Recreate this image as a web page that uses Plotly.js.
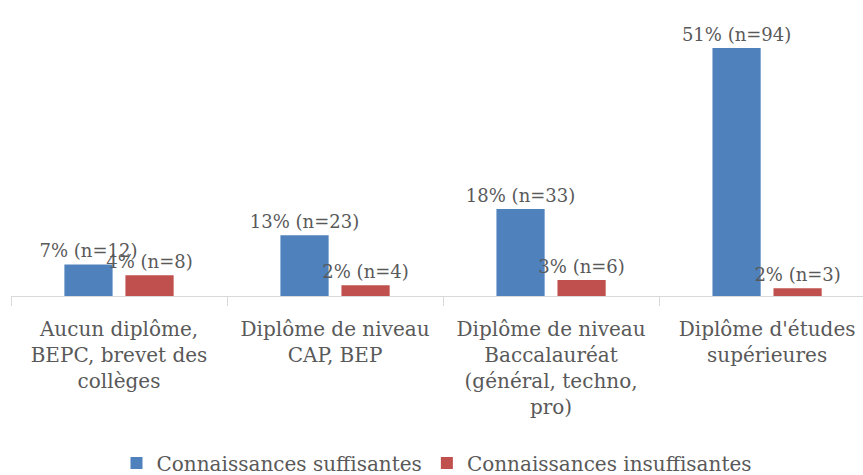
<!DOCTYPE html>
<html>
<head>
<meta charset="utf-8">
<script src="https://cdn.plot.ly/plotly-3.0.1.min.js"></script>
<style>html,body{margin:0;padding:0;background:#fff;}#chart{width:863px;height:475px;}</style>
</head>
<body>
<div id="chart"></div>
<script>
const categories = [
  "Aucun diplôme,<br>BEPC, brevet des<br>collèges",
  "Diplôme de niveau<br>CAP, BEP",
  "Diplôme de niveau<br>Baccalauréat<br>(général, techno,<br>pro)",
  "Diplôme d'études<br>supérieures"
];
const seriesNames = ["Connaissances suffisantes", "Connaissances insuffisantes"];
const suffisantesValues = [6.5, 12.5, 17.9, 51.1];
const suffisantesLabels = ["7% (n=12)", "13% (n=23)", "18% (n=33)", "51% (n=94)"];
const insuffisantesValues = [4.3, 2.2, 3.3, 1.6];
const insuffisantesLabels = ["4% (n=8)", "2% (n=4)", "3% (n=6)", "2% (n=3)"];

const FONT = "'DejaVu Serif', serif";
const GREY = "#595959";

const traces = [
  {
    type: "bar", name: seriesNames[0], x: categories, y: suffisantesValues,
    text: suffisantesLabels, textposition: "outside", cliponaxis: false, constraintext: "none",
    textfont: {family: FONT, size: 18, color: GREY},
    marker: {color: "#4F81BD"}, hoverinfo: "none"
  },
  {
    type: "bar", name: seriesNames[1], x: categories, y: insuffisantesValues,
    text: insuffisantesLabels, textposition: "outside", cliponaxis: false, constraintext: "none",
    textfont: {family: FONT, size: 18, color: GREY},
    marker: {color: "#C0504D"}, hoverinfo: "none"
  }
];

const layout = {
  width: 863, height: 475,
  margin: {l: 11, r: 0, t: 29, b: 179, autoexpand: false},
  paper_bgcolor: "#fff", plot_bgcolor: "#fff",
  font: {family: FONT, size: 20, color: GREY},
  barmode: "group", bargap: 0.435, bargroupgap: 0.21,
  showlegend: true,
  legend: {orientation: "h", x: 0.5, xanchor: "center", y: -0.625, yanchor: "middle",
           font: {family: FONT, size: 20, color: GREY}},
  xaxis: {
    type: "category", range: [-0.5, 3.444], fixedrange: true, automargin: false,
    showline: true, linecolor: "#d9d9d9", linewidth: 1,
    ticks: "outside", tickson: "boundaries", ticklen: 9, tickcolor: "#d9d9d9",
    showgrid: false, ticklabelstandoff: 15,
    tickfont: {family: FONT, size: 20, color: GREY}
  },
  yaxis: {range: [0, 55], visible: false, showgrid: false, zeroline: false, fixedrange: true}
};

Plotly.newPlot("chart", traces, layout, {displayModeBar: false, staticPlot: true});
</script>
</body>
</html>
